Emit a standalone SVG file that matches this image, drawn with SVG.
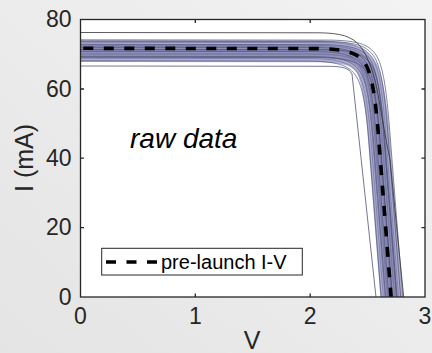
<svg xmlns="http://www.w3.org/2000/svg" xmlns:xlink="http://www.w3.org/1999/xlink" width="432" height="353" viewBox="0 0 432 353">
<style>
.txt{font-family:"Liberation Sans",Arial,sans-serif;fill:#262626}
.tick{font-size:23px}
.ax{stroke:#262626;stroke-width:1.3;fill:none}
.thin{fill:none;stroke-width:0.7}
.c1{stroke:#505276}
.c2{stroke:#7577a3}
</style>
<defs>
<linearGradient id="bg" x1="0" y1="1" x2="1" y2="0">
<stop offset="0" stop-color="#e4e4e4"/>
<stop offset="1" stop-color="#f3f3f3"/>
</linearGradient>
<clipPath id="plot"><rect x="80.5" y="19.5" width="344.5" height="277.5"/></clipPath>
<path id="iv" d="M60,48.3 L320,48.6 C348,49.3 360,53 367,67 C372,78 375,95 378,130 L392.5,315"/>
</defs>
<rect width="432" height="353" fill="url(#bg)"/>
<rect id="plotarea" x="80.5" y="19.5" width="344.5" height="277.5" fill="#ffffff"/>
<g id="curves" clip-path="url(#plot)" fill="none">
<use href="#iv" transform="translate(0.5,2.7)" stroke="#abadd0" stroke-width="22"/>
<use href="#iv" transform="translate(0.5,2.7)" stroke="#9092bb" stroke-width="13"/>
<g class="thin">
<use href="#iv" class="c1" transform="translate(-9,12.5)"/>
<use href="#iv" class="c2" transform="translate(-7,10)"/>
<use href="#iv" class="c1" transform="translate(-5,8)"/>
<use href="#iv" class="c2" transform="translate(-3,5)"/>
<use href="#iv" class="c1" transform="translate(-2,3)"/>
<use href="#iv" class="c2" transform="translate(0,1)"/>
<use href="#iv" class="c1" transform="translate(1,-1)"/>
<use href="#iv" class="c2" transform="translate(3,-3)"/>
<use href="#iv" class="c1" transform="translate(5,-4)"/>
<use href="#iv" class="c2" transform="translate(7,-6)"/>
<use href="#iv" class="c1" transform="translate(9,-7)"/>
<use href="#iv" class="c1" transform="translate(11,-8.5)"/>
<use href="#iv" class="c2" transform="translate(-4,-2)"/>
<use href="#iv" class="c2" transform="translate(4,6)"/>
<use href="#iv" class="c1" transform="translate(2,9)"/>
<use href="#iv" class="c2" transform="translate(-6,2)"/>
<use href="#iv" class="c1" transform="translate(6,1)"/>
</g>
<path d="M80.5,32.5 L320,32.8 C340,33.2 352,36 360,46 C368,56 375,75 379,100 C382,118 386,140 390,160 L404,300" stroke="#333333" stroke-width="0.8"/>
<path d="M80.5,66 L330,66.3 C342,66.5 349,68 352,74 L376.3,300" stroke="#50527a" stroke-width="0.8"/>
<path d="M80.5,48.3 L320,48.6 C348,49.3 360,53 367,67 C372,78 375,95 378,130 L392.5,315" stroke="#000000" stroke-width="3.6" stroke-dasharray="10 10.5" stroke-dashoffset="17.7"/>
</g>
<g id="axes">
<rect class="ax" x="80.5" y="19.5" width="344.5" height="277.5"/>
<path class="ax" d="M80.5,89 h3.5 M80.5,158.1 h3.5 M80.5,227.6 h3.5 M425,89 h-3.5 M425,158.1 h-3.5 M425,227.6 h-3.5 M195.3,297 v-3.5 M310.2,297 v-3.5 M195.3,19.5 v3.5 M310.2,19.5 v3.5"/>
<g class="txt tick" text-anchor="end">
<text x="71.5" y="27">80</text>
<text x="71.5" y="96.5">60</text>
<text x="71.5" y="165.8">40</text>
<text x="71.5" y="235.2">20</text>
<text x="71.5" y="304.5">0</text>
</g>
<g class="txt tick" text-anchor="middle">
<text x="80.5" y="324.3">0</text>
<text x="195.3" y="324.3">1</text>
<text x="310.2" y="324.3">2</text>
<text x="425" y="324.3">3</text>
</g>
<text class="txt" x="252" y="348.5" font-size="25" text-anchor="middle">V</text>
<text class="txt" transform="translate(33,158) rotate(-90)" font-size="25" text-anchor="middle">I (mA)</text>
</g>
<text id="annotation" class="txt" x="130" y="148" font-size="28" font-style="italic" style="fill:#000">raw data</text>
<g id="legend">
<rect x="101.7" y="248.3" width="200.6" height="26.7" fill="#ffffff" stroke="#262626" stroke-width="1"/>
<path d="M106,262 H157" stroke="#000" stroke-width="3.6" stroke-dasharray="10 10.5"/>
<text class="txt" x="161" y="268.5" font-size="20" style="fill:#000">pre-launch I-V</text>
</g>
</svg>
